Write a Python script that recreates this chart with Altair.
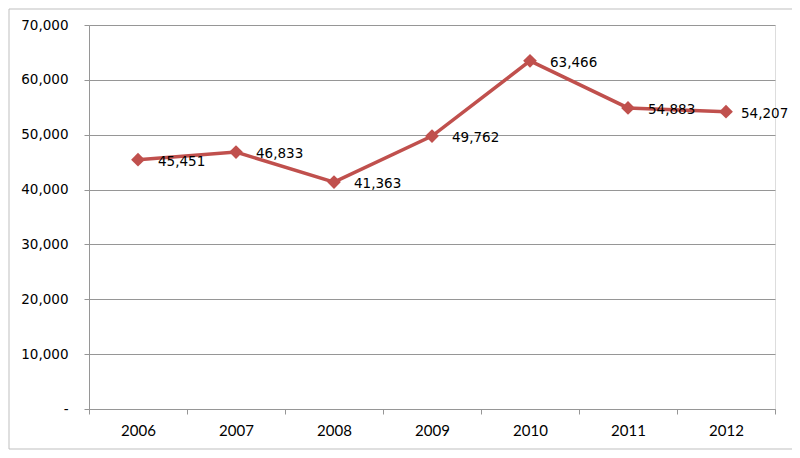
import altair as alt
import pandas as pd

years = ["2006", "2007", "2008", "2009", "2010", "2011", "2012"]
values = [45451, 46833, 41363, 49762, 63466, 54883, 54207]
y_ticks = [0, 10000, 20000, 30000, 40000, 50000, 60000, 70000]

df = pd.DataFrame({"year": years, "value": values})

RED = "#C0504D"
GRID = "#969696"

x_enc = alt.X("year:N", sort=years, title=None,
              scale=alt.Scale(paddingInner=0, paddingOuter=0),
              axis=alt.Axis(labelAngle=0, tickBand="extent", tickSize=5,
                            labelPadding=9, domainColor=GRID, tickColor=GRID,
                            labelFont="Lato", labelFontSize=15,
                            labelColor="#000000", grid=False))
y_enc = alt.Y("value:Q", title=None,
              scale=alt.Scale(domain=[0, 70000], nice=False),
              axis=alt.Axis(values=y_ticks, tickSize=5, labelPadding=16,
                            labelExpr="datum.value == 0 ? '-' : format(datum.value, ',')",
                            domainColor=GRID, tickColor=GRID, gridColor=GRID,
                            labelFont="DejaVu Sans", labelFontSize=13.5,
                            labelColor="#000000", grid=True))

border = alt.Chart(pd.DataFrame({"a": [0]})).mark_rect(
    fill=None, stroke="#BFBFBF", strokeWidth=1
).encode(x=alt.value(-80), x2=alt.value(706), y=alt.value(-16), y2=alt.value(424))

line = alt.Chart(df).mark_line(color=RED, strokeWidth=3.5).encode(x=x_enc, y=y_enc)
points = alt.Chart(df).mark_point(shape="diamond", filled=True, color=RED,
                                  size=190, opacity=1).encode(x=x_enc, y=y_enc)
text_style = dict(align="left", baseline="middle", dy=2,
                  font="DejaVu Sans", fontSize=13.5, color="#000000")
labels = alt.Chart(df).transform_filter(
    alt.datum.year != "2012"
).mark_text(dx=20, **text_style).encode(
    x=x_enc, y=y_enc, text=alt.Text("value:Q", format=","))
labels_last = alt.Chart(df).transform_filter(
    alt.datum.year == "2012"
).mark_text(dx=15, **text_style).encode(
    x=x_enc, y=y_enc, text=alt.Text("value:Q", format=","))

chart = alt.layer(border, line, points, labels, labels_last).properties(
    width=686, height=384,
    autosize=alt.AutoSizeParams(type="none"),
    padding={"left": 81, "top": 17, "right": 17, "bottom": 41},
).configure_view(stroke=None).configure(background="white")

chart.save("out.html", embed_options={"renderer": "svg", "actions": False})
